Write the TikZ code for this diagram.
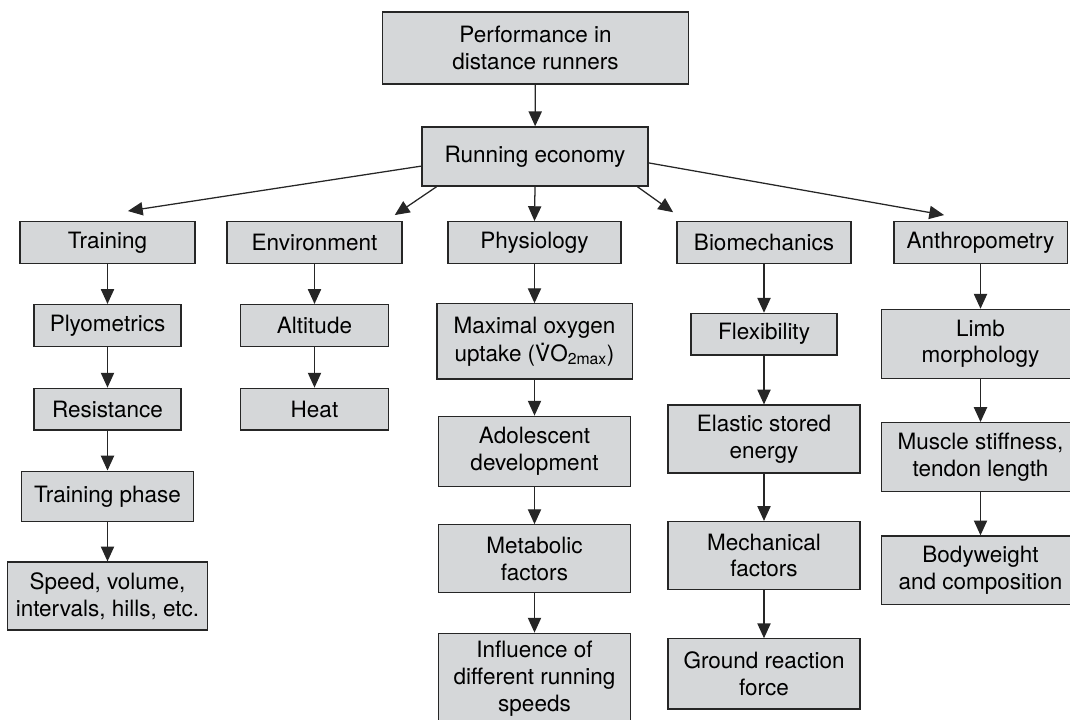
\documentclass[tikz,border=0pt]{standalone}
\usepackage{fontspec}
\setmainfont{TeX Gyre Heros}
\usetikzlibrary{positioning,arrows.meta}
\definecolor{boxgray}{RGB}{213,215,217}
\newcommand{\Vdot}{\leavevmode\hbox{\ooalign{V\cr\hidewidth\raisebox{0.7em}{.}\hidewidth\cr}}}

\begin{document}
\begin{tikzpicture}[
  x=0.025cm, y=-0.025cm,
  font=\fontsize{16}{19}\selectfont,
  box/.style={draw=black!85, line width=0.9pt, fill=boxgray, align=center, inner sep=2pt, minimum height=1.04cm},
  arr/.style={-{Triangle[length=3.7mm, width=3.3mm]}, line width=0.9pt, draw=black!85},
]
\useasboundingbox (0,0) rectangle (1070,720);
% Top of the tree.
\node[box, minimum width=7.63cm, minimum height=1.8cm] (PD) at (535.5,48) {Performance in\\distance runners};
\node[box, minimum width=5.65cm, minimum height=1.48cm] (RE) at (535,156.5) {Running economy};
\draw[arr] (PD) -- (RE);
% Five groups.
\node[box, minimum width=4.38cm] (TR) at (107.5,242.5) {Training};
\node[box, minimum width=4.38cm] (EN) at (314.5,242.5) {Environment};
\node[box, minimum width=4.33cm] (PH) at (534.5,242.5) {Physiology};
\node[box, minimum width=4.35cm] (BM) at (764,242.5) {Biomechanics};
\node[box, minimum width=4.33cm] (AN) at (980.5,242.5) {Anthropometry};
\draw[arr] ([yshift=-0.24cm]RE.west) -- ([xshift=5.1mm, yshift=2.5mm]TR.north);
\draw[arr] ([xshift=3.8mm]RE.south west) -- ([xshift=-2mm, yshift=1.5mm]EN.north east);
\draw[arr] (RE.south) -- (PH.north);
\draw[arr] ([xshift=-2.8mm]RE.south east) -- ([xshift=-0.8mm, yshift=2.2mm]BM.north west);
\draw[arr] ([yshift=-0.16cm]RE.east) -- ([xshift=-9.1mm, yshift=1.5mm]AN.north);
% Training.
\node[box, below=1cm of TR, minimum width=3.68cm] (PL) {Plyometrics};
\node[box, below=1.02cm of PL, minimum width=3.68cm] (RS) {Resistance};
\node[box, below=1cm of RS, minimum width=4.3cm, minimum height=1.26cm] (TP) {Training phase};
\node[box, below=0.98cm of TP, minimum width=5cm, minimum height=1.7cm] (SV) {Speed, volume,\\intervals, hills, etc.};
\draw[arr] (TR) -- (PL);
\draw[arr] (PL) -- (RS);
\draw[arr] (RS) -- (TP);
\draw[arr] (TP) -- (SV);
% Environment.
\node[box, below=1cm of EN, minimum width=3.7cm] (AL) {Altitude};
\node[box, below=1.02cm of AL, minimum width=3.7cm] (HT) {Heat};
\draw[arr] (EN) -- (AL);
\draw[arr] (AL) -- (HT);
% Physiology.
\node[box, below=0.98cm of PH, minimum width=4.88cm, minimum height=1.88cm] (MX) {Maximal oxygen\\[1pt]uptake (\Vdot O\textsubscript{2max})};
\node[box, below=0.9cm of MX, minimum width=4.8cm, minimum height=1.75cm] (AD) {Adolescent\\development};
\node[box, below=0.93cm of AD, minimum width=4.8cm, minimum height=1.7cm] (MB) {Metabolic\\factors};
\node[box, below=0.98cm of MB, minimum width=4.8cm, minimum height=2.28cm] (IN) {Influence of\\different running\\speeds};
\draw[arr] (PH) -- (MX);
\draw[arr] (MX) -- (AD);
\draw[arr] (AD) -- (MB);
\draw[arr] (MB) -- (IN);
% Biomechanics.
\node[box, below=1.22cm of BM, minimum width=3.65cm] (FL) {Flexibility};
\node[box, below=1.22cm of FL, minimum width=4.8cm, minimum height=1.7cm] (ES) {Elastic stored\\energy};
\node[box, below=1.18cm of ES, minimum width=4.8cm, minimum height=1.7cm] (MF) {Mechanical\\factors};
\node[box, below=1.2cm of MF, minimum width=4.8cm, minimum height=1.75cm] (GR) {Ground reaction\\force};
\draw[arr] (BM) -- (FL);
\draw[arr] (FL) -- (ES);
\draw[arr] (ES) -- (MF);
\draw[arr] (MF) -- (GR);
% Anthropometry.
\node[box, below=1.12cm of AN, minimum width=4.95cm, minimum height=1.72cm] (LM) {Limb\\morphology};
\node[box, below=1.08cm of LM, minimum width=4.95cm, minimum height=1.72cm] (MS) {Muscle stiffness,\\tendon length};
\node[box, below=1.08cm of MS, minimum width=4.95cm, minimum height=1.72cm] (BW) {Bodyweight\\and composition};
\draw[arr] (AN) -- (LM);
\draw[arr] (LM) -- (MS);
\draw[arr] (MS) -- (BW);
\end{tikzpicture}
\end{document}
